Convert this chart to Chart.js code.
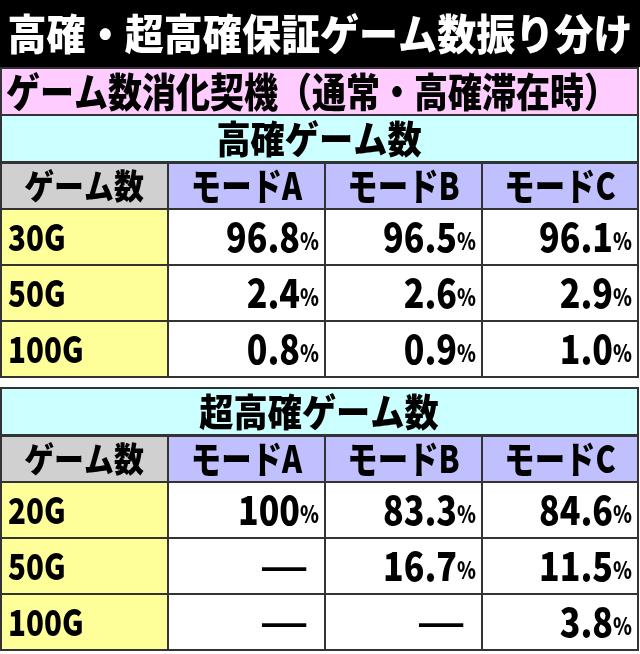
<!DOCTYPE html>
<html>
<head>
<meta charset="utf-8">
<script src="https://cdn.jsdelivr.net/npm/chart.js@4"></script>
<style>
  html, body { margin: 0; padding: 0; background: #fff; }
  #wrap { width: 640px; height: 654px; }
</style>
</head>
<body>
<div id="wrap"><canvas id="tableChart"></canvas></div>
<script>
const title = "高確・超高確保証ゲーム数振り分け";
const subtitle = "ゲーム数消化契機（通常・高確滞在時）";
const section1 = "高確ゲーム数";
const section2 = "超高確ゲーム数";
const headFirst = "ゲーム数";
const modes = ["モードA", "モードB", "モードC"];

const koukakuGames = ["30G", "50G", "100G"];
const koukakuA = [96.8, 2.4, 0.8];
const koukakuB = [96.5, 2.6, 0.9];
const koukakuC = [96.1, 2.9, 1.0];

const chouGames = ["20G", "50G", "100G"];
const chouA = [100, null, null];
const chouB = [83.3, 16.7, null];
const chouC = [84.6, 11.5, 3.8];

const FONT = '"Noto Sans CJK JP", "Noto Sans", sans-serif';
const colEdges = [0, 168, 325, 482, 638];

function fmt(v) {
    return v === 100 ? "100" : v.toFixed(1);
}

// draw text squeezed horizontally by sx
function drawText(ctx, text, x, y, size, align, sx, color) {
    ctx.save();
    ctx.font = `900 ${size}px ${FONT}`;
    ctx.fillStyle = color || "#000";
    ctx.textBaseline = "middle";
    const w = ctx.measureText(text).width * sx;
    let left = x;
    if (align === "center") left = x - w / 2;
    if (align === "right") left = x - w;
    ctx.translate(left, y);
    ctx.scale(sx, 1);
    ctx.textAlign = "left";
    ctx.fillText(text, 0, 0);
    ctx.restore();
    return w;
}

const tablePlugin = {
    id: "tablePlugin",
    afterDraw(chart) {
        const ctx = chart.ctx;
        const xs = chart.scales.x, ys = chart.scales.y;
        const px = v => xs.getPixelForValue(v);
        const py = v => ys.getPixelForValue(v);

        function cell(x0, y0, x1, y1, fill) {
            ctx.save();
            ctx.fillStyle = fill;
            ctx.fillRect(px(x0), py(y0), px(x1) - px(x0), py(y1) - py(y0));
            ctx.strokeStyle = "#333";
            ctx.lineWidth = 2;
            ctx.strokeRect(px(x0), py(y0), px(x1) - px(x0), py(y1) - py(y0));
            ctx.restore();
        }

        // title
        ctx.fillStyle = "#000";
        ctx.fillRect(px(0), py(0), px(640) - px(0), py(67) - py(0));
        drawText(ctx, title, px(320), py(34), 42, "center", 0.93, "#fff");

        cell(1, 68, 638, 115, "#ffccff");
        drawText(ctx, subtitle, px(6), py(92), 40, "left", 0.85);

        function block(top, label, games, a, b, c) {
            cell(1, top, 638, top + 47, "#ccffff");
            drawText(ctx, label, px(319), py(top + 24), 38, "center", 0.9);
            const hTop = top + 48, hBot = top + 94;
            cell(colEdges[0] + 1, hTop, colEdges[1], hBot, "#d0d0d0");
            drawText(ctx, headFirst, px(84), py((hTop + hBot) / 2), 34, "center", 0.88);
            modes.forEach((m, i) => {
                cell(colEdges[i + 1], hTop, colEdges[i + 2], hBot, "#c0c0ff");
                drawText(ctx, m, px((colEdges[i + 1] + colEdges[i + 2]) / 2), py((hTop + hBot) / 2), 38, "center", 0.8);
            });
            const cols = [a, b, c];
            games.forEach((g, r) => {
                const y0 = hBot + r * 56, y1 = y0 + 56, ym = (y0 + y1) / 2;
                cell(colEdges[0] + 1, y0, colEdges[1], y1, "#ffff99");
                drawText(ctx, g, px(8), py(ym), 36, "left", 0.82);
                cols.forEach((arr, i) => {
                    cell(colEdges[i + 1], y0, colEdges[i + 2], y1, "#fff");
                    const right = px(colEdges[i + 2] - 6);
                    const v = arr[r];
                    if (v === null) {
                        drawText(ctx, "—", right - 10, py(ym), 34, "right", 1.6);
                    } else {
                        const w = drawText(ctx, "%", right, py(ym + 4), 24, "right", 0.8);
                        drawText(ctx, fmt(v), right - w, py(ym), 40, "right", 0.85);
                    }
                });
            });
        }

        block(115, section1, koukakuGames, koukakuA, koukakuB, koukakuC);
        block(388, section2, chouGames, chouA, chouB, chouC);
    }
};

new Chart(document.getElementById("tableChart"), {
    type: "scatter",
    data: { datasets: [{ data: [] }] },
    options: {
        responsive: true,
        maintainAspectRatio: false,
        animation: false,
        layout: { padding: 0 },
        plugins: { legend: { display: false }, tooltip: { enabled: false } },
        scales: {
            x: { type: "linear", min: 0, max: 640, display: false },
            y: { type: "linear", min: 0, max: 654, reverse: true, display: false }
        }
    },
    plugins: [tablePlugin]
});
</script>
</body>
</html>
